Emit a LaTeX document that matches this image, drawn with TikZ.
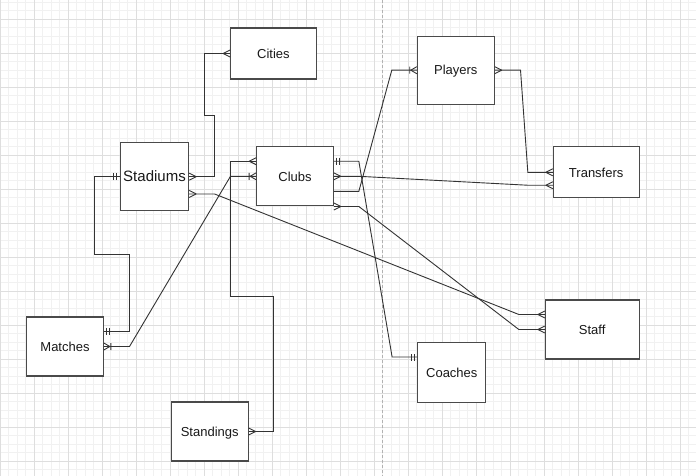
\documentclass[tikz,border=0pt]{standalone}
\usepackage{fontspec}
\setmainfont{Liberation Sans}
\usetikzlibrary{calc}
\definecolor{gridmajor}{HTML}{DEDEDE}
\definecolor{gridminor}{HTML}{F1F1F1}
\definecolor{ink}{HTML}{333333}
\definecolor{boxline}{HTML}{4A4A4A}
\begin{document}
\begin{tikzpicture}[x=1pt,y=-1pt,
  entity/.style={draw=boxline, line width=1.05pt, fill=white, inner sep=0pt,
    font=\fontsize{13}{15}\selectfont, text=black!90, text height=11pt, text depth=1.6pt},
  bigentity/.style={entity, font=\fontsize{15}{17}\selectfont, text height=12pt, text depth=2pt},
  erline/.style={draw=ink, line width=0.9pt},
  ermany/.pic={\draw[erline] (7,0) -- (0,3.5) (7,0) -- (0,-3.5);},
  erone/.pic={\draw[erline] (3,-3.5) -- (3,3.5) (6,-3.5) -- (6,3.5);},
  eronemany/.pic={\draw[erline] (6,0) -- (0,3.5) (6,0) -- (0,-3.5) (7,-3.5) -- (7,3.5);}
]
\useasboundingbox (0,0) rectangle (696,476);
\fill[white] (0,0) rectangle (696,476);

% background grid
\foreach \k in {0,...,81} \draw[gridminor, line width=0.8pt] ({0.3+8.5*\k},0) -- ({0.3+8.5*\k},476);
\foreach \k in {0,...,55} \draw[gridminor, line width=0.8pt] (0,{2.3+8.5*\k}) -- (696,{2.3+8.5*\k});
\foreach \k in {0,...,20} \draw[gridmajor, line width=0.8pt] ({0.3+34*\k},0) -- ({0.3+34*\k},476);
\foreach \k in {0,...,13} \draw[gridmajor, line width=0.8pt] (0,{19.3+34*\k}) -- (696,{19.3+34*\k});

% page divider
\draw[gray!60, line width=0.8pt, dash pattern=on 3pt off 2pt] (382.7,0) -- (382.7,476);

% entities
\node[entity, minimum width=85.3pt, minimum height=51pt] (cities) at (273.4,53.5) {Cities};
\node[bigentity, minimum width=68.4pt, minimum height=68pt] (stad) at (154.5,176.7) {Stadiums};
\node[entity, minimum width=76.6pt, minimum height=59.3pt] (clubs) at (295,176.3) {Clubs};
\node[entity, minimum width=77pt, minimum height=67.7pt] (players) at (455.8,70.2) {Players};
\node[entity, minimum width=85.7pt, minimum height=50.7pt] (transfers) at (596.2,172.3) {Transfers};
\node[entity, minimum width=76.6pt, minimum height=59pt] (matches) at (65,346.5) {Matches};
\node[entity, minimum width=76.7pt, minimum height=59pt] (standings) at (209.7,431.5) {Standings};
\node[entity, minimum width=93.7pt, minimum height=59pt] (staff) at (592.2,329.5) {Staff};
\node[entity, minimum width=68.3pt, minimum height=60pt] (coaches) at (451.8,372.3) {Coaches};

% attachment points along the entity sides
\coordinate (stadB) at ($(stad.north east)!0.75!(stad.south east)$);
\coordinate (clubsLA) at ($(clubs.north west)!0.25!(clubs.south west)$);
\coordinate (clubsRA) at ($(clubs.north east)!0.25!(clubs.south east)$);
\coordinate (clubsRC) at ($(clubs.north east)!0.75!(clubs.south east)$);
\coordinate (transB) at ($(transfers.north west)!0.75!(transfers.south west)$);
\coordinate (matA) at ($(matches.north east)!0.25!(matches.south east)$);
\coordinate (staffA) at ($(staff.north west)!0.25!(staff.south west)$);
\coordinate (coachA) at ($(coaches.north west)!0.25!(coaches.south west)$);

% relationships
\draw[erline] (stad.east) -| (214,115) -| ([xshift=-25.4pt]cities.west) -- (cities.west);
\draw[erline] (stadB) -- ++(25.3,0) -- ([xshift=-26pt]staffA) -- (staffA);
\draw[erline] (stad.west) -| (94.3,254) -| ([xshift=25.7pt]matA) -- (matA);
\draw[erline] (clubsLA) -- ([xshift=-25.7pt]clubsLA) |- (273.3,296.7) |- (standings.east);
\draw[erline] (clubs.west) -- ++(-25.7,0) -- ([xshift=25.7pt]matches.east) -- (matches.east);
\draw[erline] (clubsRA) -- ++(25,0) -- ([xshift=-25pt]coachA) -- (coachA);
\draw[erline] (clubs.east) -- ++(25,0) -- ([xshift=-25pt]transB) -- (transB);
\draw[erline] (clubsRC) -- ++(25,0) -- ([xshift=-25pt]players.west) -- (players.west);
\draw[erline] (clubs.south east) -- ++(25,0) -- ([xshift=-26pt]staff.west) -- (staff.west);
\draw[erline] (players.east) -- ++(25.7,0) -- ([xshift=-25pt]transfers.west) -- (transfers.west);

% cardinality marks
\pic at (stad.east) {ermany};
\pic[rotate=180] at (cities.west) {ermany};
\pic at (stadB) {ermany};
\pic[rotate=180] at (staffA) {ermany};
\pic[rotate=180] at (stad.west) {erone};
\pic at (matA) {erone};
\pic[rotate=180] at (clubsLA) {ermany};
\pic at (standings.east) {ermany};
\pic[rotate=180] at (clubs.west) {eronemany};
\pic at (matches.east) {eronemany};
\pic at (clubsRA) {erone};
\pic[rotate=180] at (coachA) {erone};
\pic at (clubs.east) {ermany};
\pic[rotate=180] at (transB) {ermany};
\pic[rotate=180] at (players.west) {eronemany};
\pic at (clubs.south east) {ermany};
\pic[rotate=180] at (staff.west) {ermany};
\pic at (players.east) {ermany};
\pic[rotate=180] at (transfers.west) {ermany};
\end{tikzpicture}
\end{document}
